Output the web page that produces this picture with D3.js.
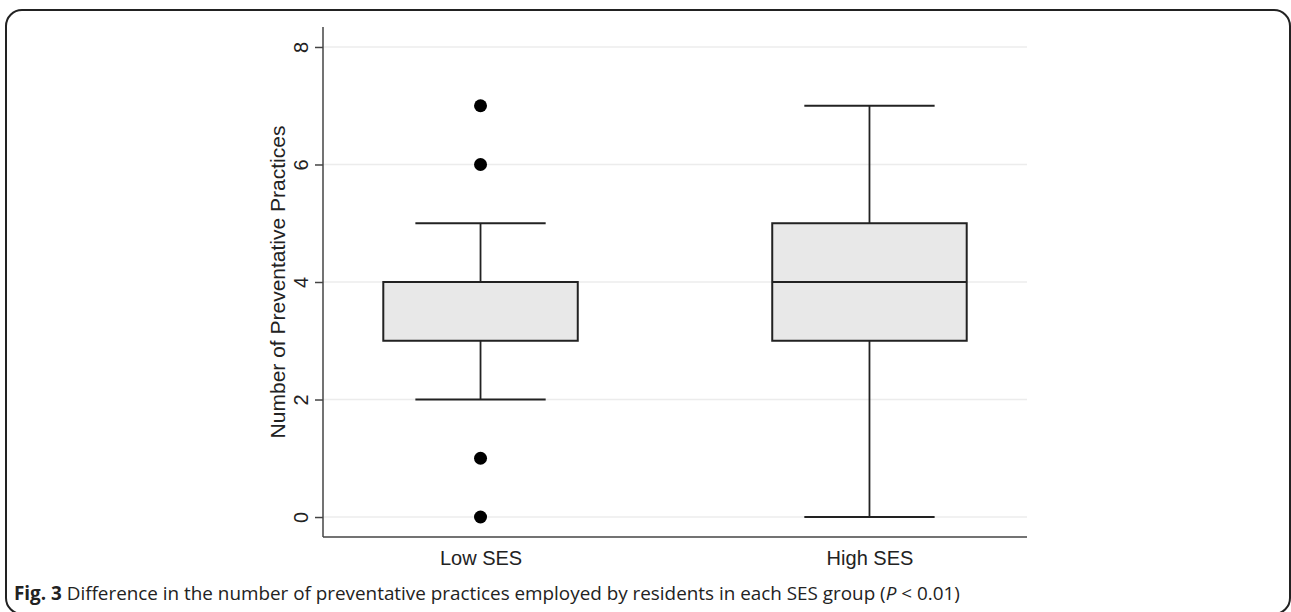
<!DOCTYPE html>
<html>
<head>
<meta charset="utf-8">
<script src="https://cdn.jsdelivr.net/npm/d3@7/dist/d3.min.js"></script>
<style>
  body { margin: 0; background: #fff; }
  svg { display: block; }
</style>
</head>
<body>
<div id="container"></div>
<script>
let w = 1291;
let h = 612;

// data
let groups = ["Low SES", "High SES"];
let q1 = [3, 3];
let medians = [4, 4];
let q3 = [4, 5];
let whiskLow = [2, 0];
let whiskHigh = [5, 7];
let outliers = [[0, 1, 6, 7], []];
let yTicks = [0, 2, 4, 6, 8];
let caption = "Difference in the number of preventative practices employed by residents in each SES group (";

let plot = { left: 323, right: 1027, top: 27, bottom: 537 };

let svg = d3.select("#container")
  .append("svg")
  .attr("width", w)
  .attr("height", h);

// outer frame
svg.append("rect")
  .attr("x", 6).attr("y", 10)
  .attr("width", 1284).attr("height", 604)
  .attr("rx", 16)
  .attr("fill", "none")
  .attr("stroke", "#222")
  .attr("stroke-width", 2);

let xScale = d3.scalePoint()
  .domain(groups)
  .range([plot.left, plot.right])
  .padding(0.405);

let yScale = d3.scaleLinear()
  .domain([-0.34, 8.34])
  .range([plot.bottom, plot.top]);

let step = xScale.step();
let boxW = step * 0.5;
let capW = step * 0.335;

// grid lines
svg.append("g")
  .selectAll("line")
  .data(yTicks)
  .join("line")
  .attr("x1", plot.left)
  .attr("x2", plot.right)
  .attr("y1", d => yScale(d))
  .attr("y2", d => yScale(d))
  .attr("stroke", "#ececec")
  .attr("stroke-width", 1.5);

// y axis
let yAxis = svg.append("g")
  .attr("transform", "translate(" + plot.left + ",0)")
  .call(d3.axisLeft(yScale).tickValues(yTicks).tickSize(8).tickSizeOuter(0));
yAxis.select(".domain").remove();
yAxis.selectAll(".tick line").attr("stroke", "#444").attr("stroke-width", 1.5);
yAxis.selectAll(".tick text")
  .attr("transform", "rotate(-90)")
  .attr("x", 0)
  .attr("y", -15)
  .attr("dy", 0)
  .attr("text-anchor", "middle")
  .style("font-family", "'Liberation Sans', Arial, sans-serif")
  .style("font-size", "20px")
  .style("fill", "#222");

svg.append("line")
  .attr("x1", plot.left).attr("x2", plot.left)
  .attr("y1", plot.top).attr("y2", plot.bottom)
  .attr("stroke", "#444").attr("stroke-width", 1.5);

// x axis
let xAxis = svg.append("g")
  .attr("transform", "translate(0," + plot.bottom + ")")
  .call(d3.axisBottom(xScale).tickSize(0).tickSizeOuter(0));
xAxis.select(".domain").remove();
xAxis.selectAll(".tick text")
  .attr("y", 28)
  .attr("dy", 0)
  .style("font-family", "'Liberation Sans', Arial, sans-serif")
  .style("font-size", "20px")
  .style("fill", "#222");

svg.append("line")
  .attr("x1", plot.left).attr("x2", plot.right)
  .attr("y1", plot.bottom).attr("y2", plot.bottom)
  .attr("stroke", "#444").attr("stroke-width", 1.5);

// y title
svg.append("text")
  .attr("transform", "translate(285," + ((plot.top + plot.bottom) / 2) + ") rotate(-90)")
  .attr("text-anchor", "middle")
  .style("font-family", "'Liberation Sans', Arial, sans-serif")
  .style("font-size", "21px")
  .style("fill", "#222")
  .text("Number of Preventative Practices");

// boxes
let boxes = svg.append("g")
  .selectAll("g")
  .data(groups)
  .join("g");

boxes.append("line")
  .attr("x1", d => xScale(d)).attr("x2", d => xScale(d))
  .attr("y1", (d, i) => yScale(whiskHigh[i]))
  .attr("y2", (d, i) => yScale(q3[i]))
  .attr("stroke", "#222").attr("stroke-width", 1.8);

boxes.append("line")
  .attr("x1", d => xScale(d)).attr("x2", d => xScale(d))
  .attr("y1", (d, i) => yScale(q1[i]))
  .attr("y2", (d, i) => yScale(whiskLow[i]))
  .attr("stroke", "#222").attr("stroke-width", 1.8);

boxes.append("line")
  .attr("x1", d => xScale(d) - capW / 2).attr("x2", d => xScale(d) + capW / 2)
  .attr("y1", (d, i) => yScale(whiskHigh[i]))
  .attr("y2", (d, i) => yScale(whiskHigh[i]))
  .attr("stroke", "#222").attr("stroke-width", 1.8);

boxes.append("line")
  .attr("x1", d => xScale(d) - capW / 2).attr("x2", d => xScale(d) + capW / 2)
  .attr("y1", (d, i) => yScale(whiskLow[i]))
  .attr("y2", (d, i) => yScale(whiskLow[i]))
  .attr("stroke", "#222").attr("stroke-width", 1.8);

boxes.append("rect")
  .attr("x", d => xScale(d) - boxW / 2)
  .attr("width", boxW)
  .attr("y", (d, i) => yScale(q3[i]))
  .attr("height", (d, i) => yScale(q1[i]) - yScale(q3[i]))
  .attr("fill", "#e8e8e8")
  .attr("stroke", "#222")
  .attr("stroke-width", 2);

boxes.append("line")
  .attr("x1", d => xScale(d) - boxW / 2).attr("x2", d => xScale(d) + boxW / 2)
  .attr("y1", (d, i) => yScale(medians[i]))
  .attr("y2", (d, i) => yScale(medians[i]))
  .attr("stroke", "#222").attr("stroke-width", 2);

// outliers
groups.forEach(function (g, i) {
  svg.append("g")
    .selectAll("circle")
    .data(outliers[i])
    .join("circle")
    .attr("cx", xScale(g))
    .attr("cy", d => yScale(d))
    .attr("r", 6.5)
    .attr("fill", "#000");
});

// caption
let cap = svg.append("text")
  .attr("x", 14)
  .attr("y", 600)
  .style("font-family", "'Open Sans', 'Noto Sans', sans-serif")
  .style("font-size", "17px")
  .style("fill", "#222");
cap.append("tspan").style("font-weight", "bold").text("Fig. 3");
cap.append("tspan").text(" " + caption);
cap.append("tspan").style("font-style", "italic").text("P");
cap.append("tspan").text(" < 0.01)");

// squeeze caption to the width it has in the figure
let capLen = cap.node().getComputedTextLength();
cap.style("font-size", (17 * 946 / capLen) + "px");
</script>
</body>
</html>
